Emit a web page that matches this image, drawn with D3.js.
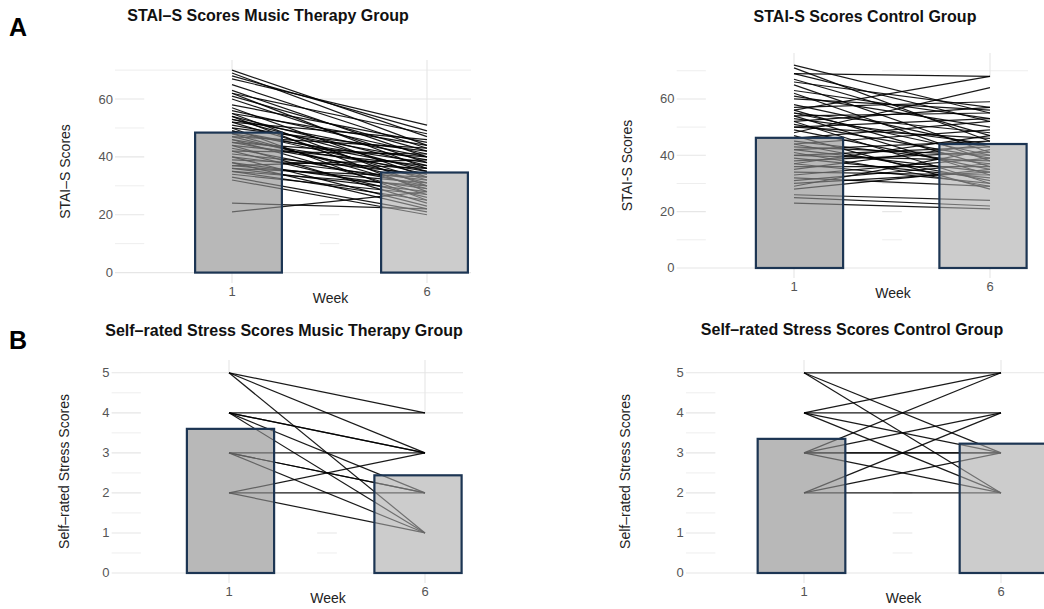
<!DOCTYPE html>
<html>
<head>
<meta charset="utf-8">
<script src="https://cdn.jsdelivr.net/npm/d3@7"></script>
<style>
  body { margin: 0; background: #fff; }
  svg { display: block; font-family: "Liberation Sans", Arial, Helvetica, sans-serif; }
</style>
</head>
<body>
<svg id="chart" width="1044" height="609"></svg>
<script>
// weeks on the x axis
const weeks = ["1", "6"];

// STAI-S, music therapy group (one entry per participant)
const staiMusicWeek1 = [70,69,68,67,65,63,62,62,61,60,58,57,56,55,55,54,54,53,53,52,52,51,50,50,49,49,48,48,47,47,46,46,45,45,44,44,43,42,42,41,40,40,39,38,38,37,37,36,36,35,35,34,33,32,24,21];
const staiMusicWeek6 = [47,44,49,51,43,40,48,36,42,38,45,33,41,30,44,37,28,40,35,46,32,39,25,42,34,36,29,38,31,43,27,35,33,40,24,37,30,41,26,34,32,23,36,29,22,31,39,28,33,25,30,27,21,20,22,28];
const staiMusicMeans = [48.4, 34.6];

// STAI-S, control group
const staiControlWeek1 = [72,71,69,69,67,66,65,63,62,61,60,58,57,56,56,55,55,54,54,53,52,52,51,50,50,49,48,47,46,45,44,44,43,42,42,41,40,40,39,38,37,37,36,35,34,33,32,31,30,29,28,26,25,23];
const staiControlWeek6 = [55,45,68,52,47,57,41,53,38,50,56,43,59,36,68,40,48,33,55,44,30,57,39,46,53,35,64,28,52,37,49,31,40,34,45,29,38,43,32,41,47,30,36,44,33,39,29,37,34,42,35,24,22,21];
const staiControlMeans = [46.2, 44.0];

// self-rated stress, music therapy group
const stressMusicWeek1 = [5,5,5,4,4,4,4,4,3,3,3,3,2,2,2];
const stressMusicWeek6 = [4,3,1,4,3,3,2,1,3,2,2,1,3,2,1];
const stressMusicMeans = [3.6, 2.44];

// self-rated stress, control group
const stressControlWeek1 = [5,5,5,4,4,4,4,3,3,3,3,3,2,2,2];
const stressControlWeek6 = [5,3,2,5,4,3,2,5,4,3,2,3,4,3,2];
const stressControlMeans = [3.35, 3.23];

const staiTicks = [0, 20, 40, 60];
const staiMinor = [10, 30, 50, 70];
const stressTicks = [0, 1, 2, 3, 4, 5];
const stressMinor = [0.5, 1.5, 2.5, 3.5, 4.5];

const svg = d3.select("#chart");

// panel letters
svg.append("text").attr("x", 9).attr("y", 36).attr("font-size", 25).attr("font-weight", "bold").text("A");
svg.append("text").attr("x", 9).attr("y", 349).attr("font-size", 25).attr("font-weight", "bold").text("B");

const panels = [
  { title: "STAI\u2013S Scores Music Therapy Group", titleX: 268, titleY: 21,
    yTitle: "STAI\u2013S Scores", yTitleX: 70,
    w1: staiMusicWeek1, w6: staiMusicWeek6, means: staiMusicMeans,
    ticks: staiTicks, minor: staiMinor,
    xr: [232, 427], yr: [283, 60], dom: [-3.6, 73.5], clipRight: 471, barShift: [6.5, -2.5] },
  { title: "STAI-S Scores Control Group", titleX: 865, titleY: 22,
    yTitle: "STAI-S Scores", yTitleX: 632,
    w1: staiControlWeek1, w6: staiControlWeek6, means: staiControlMeans,
    ticks: staiTicks, minor: staiMinor,
    xr: [794, 990], yr: [278, 53], dom: [-3.55, 76.3], clipRight: 1028, barShift: [5.5, -7] },
  { title: "Self\u2013rated Stress Scores Music Therapy Group", titleX: 284, titleY: 336,
    yTitle: "Self\u2013rated Stress Scores", yTitleX: 69,
    w1: stressMusicWeek1, w6: stressMusicWeek6, means: stressMusicMeans,
    ticks: stressTicks, minor: stressMinor,
    xr: [229, 425], yr: [583, 360], dom: [-0.25, 5.32], clipRight: 463, barShift: [1.5, -7] },
  { title: "Self\u2013rated Stress Scores Control Group", titleX: 852, titleY: 335,
    yTitle: "Self\u2013rated Stress Scores", yTitleX: 630,
    w1: stressControlWeek1, w6: stressControlWeek6, means: stressControlMeans,
    ticks: stressTicks, minor: stressMinor,
    xr: [804, 1001], yr: [583, 360], dom: [-0.25, 5.32], clipRight: 1044, barShift: [-2.5, 2.5] }
];

panels.forEach((p, i) => {
  const x = d3.scalePoint().domain(weeks).range(p.xr);
  const step = p.xr[1] - p.xr[0];
  const y = d3.scaleLinear().domain(p.dom).range(p.yr);
  const left = p.xr[0] - 0.6 * step;
  const right = Math.min(p.xr[1] + 0.6 * step, p.clipRight);
  const top = p.yr[1], bottom = p.yr[0];

  svg.append("clipPath").attr("id", "clip" + i)
    .append("rect").attr("x", left).attr("y", top - 5).attr("width", right - left).attr("height", bottom - top + 10);

  svg.append("text")
    .attr("x", p.titleX).attr("y", p.titleY)
    .attr("text-anchor", "middle").attr("font-size", 16).attr("font-weight", "bold")
    .attr("fill", "#111").text(p.title);

  const g = svg.append("g").attr("clip-path", `url(#clip${i})`);

  // grid
  g.selectAll(".minor").data(p.minor).join("line")
    .attr("x1", left).attr("x2", right)
    .attr("y1", d => y(d)).attr("y2", d => y(d))
    .attr("stroke", "#eeeeee").attr("stroke-width", 1);
  g.selectAll(".major").data(p.ticks).join("line")
    .attr("x1", left).attr("x2", right)
    .attr("y1", d => y(d)).attr("y2", d => y(d))
    .attr("stroke", "#e6e6e6").attr("stroke-width", 1.1);
  g.selectAll(".vgrid").data(weeks).join("line")
    .attr("x1", d => x(d)).attr("x2", d => x(d))
    .attr("y1", top).attr("y2", bottom)
    .attr("stroke", "#e6e6e6").attr("stroke-width", 1.1);

  // white columns of the per-person values (tallest one shows)
  const maxes = [d3.max(p.w1), d3.max(p.w6)];
  g.selectAll(".cover").data(weeks).join("rect")
    .attr("x", d => x(d) - 0.45 * step)
    .attr("width", 0.9 * step)
    .attr("y", (d, k) => y(maxes[k]) + 1)
    .attr("height", (d, k) => y(0) - y(maxes[k]) - 2)
    .attr("fill", "#fff");

  // individual lines
  g.selectAll(".pair").data(p.w1.map((v, k) => [v, p.w6[k]])).join("line")
    .attr("x1", x(weeks[0])).attr("x2", x(weeks[1]))
    .attr("y1", d => y(d[0])).attr("y2", d => y(d[1]))
    .attr("stroke", "#000").attr("stroke-opacity", 0.9).attr("stroke-width", 1.2);

  // mean bars
  const barW = 0.445 * step;
  const fills = ["#8f8f8f", "#aaaaaa"];
  const ops = [0.63, 0.6];
  g.selectAll(".bar").data(weeks).join("rect")
    .attr("x", (d, k) => x(d) + p.barShift[k] - barW / 2)
    .attr("width", barW)
    .attr("y", (d, k) => y(p.means[k]))
    .attr("height", (d, k) => y(0) - y(p.means[k]))
    .attr("fill", (d, k) => fills[k])
    .attr("fill-opacity", (d, k) => ops[k])
    .attr("stroke", "#1c3553").attr("stroke-width", 2.2);

  // y tick labels
  svg.selectAll(null).data(p.ticks).join("text")
    .attr("x", left - 2).attr("y", d => y(d) + 4.5)
    .attr("text-anchor", "end").attr("font-size", 13).attr("fill", "#555")
    .text(d => d);

  // x tick labels
  svg.selectAll(null).data(weeks).join("text")
    .attr("x", d => x(d)).attr("y", bottom + 12.5)
    .attr("text-anchor", "middle").attr("font-size", 13).attr("fill", "#555")
    .text(d => d);

  svg.append("text")
    .attr("x", (p.xr[0] + p.xr[1]) / 2 + 1).attr("y", bottom + 20)
    .attr("text-anchor", "middle").attr("font-size", 14).attr("fill", "#222")
    .text("Week");

  svg.append("text")
    .attr("transform", `translate(${p.yTitleX},${(top + bottom) / 2}) rotate(-90)`)
    .attr("text-anchor", "middle").attr("font-size", 14).attr("fill", "#222")
    .text(p.yTitle);
});
</script>
</body>
</html>
